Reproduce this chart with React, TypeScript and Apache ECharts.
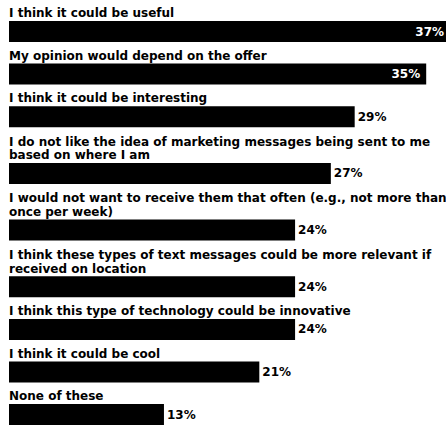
import React, { useEffect, useRef } from "react";
import * as echarts from "echarts";

const categories: string[] = [
  "I think it could be useful",
  "My opinion would depend on the offer",
  "I think it could be interesting",
  "I do not like the idea of marketing messages being sent to me\nbased on where I am",
  "I would not want to receive them that often (e.g., not more than\nonce per week)",
  "I think these types of text messages could be more relevant if\nreceived on location",
  "I think this type of technology could be innovative",
  "I think it could be cool",
  "None of these",
];

const values: number[] = [37, 35, 29, 27, 24, 24, 24, 21, 13];

const AXIS_MAX = 37;

export default function App() {
  const ref = useRef<HTMLDivElement>(null);

  useEffect(() => {
    if (!ref.current) return;
    const chart = echarts.init(ref.current, undefined, { renderer: "svg" });

    const left = 9;
    const barH = 21;
    const lineH = 14.1;
    const gap = 7.5;
    const pxPerUnit = 11.92;
    const gridW = AXIS_MAX * pxPerUnit;

    const tops: number[] = [];
    let t = 21;
    categories.forEach((c, i) => {
      const lines = c.split("\n").length;
      if (i > 0) t = t + barH + gap + lineH * lines;
      tops.push(t);
    });

    const grids: any[] = [];
    const xAxes: any[] = [];
    const yAxes: any[] = [];
    const series: any[] = [];
    const graphics: any[] = [];

    categories.forEach((c, i) => {
      grids.push({ left, top: tops[i], width: gridW, height: barH, containLabel: false });
      xAxes.push({ gridIndex: i, type: "value", min: 0, max: AXIS_MAX, show: false });
      yAxes.push({ gridIndex: i, type: "category", data: [c], show: false });
      const inside = values[i] >= 30;
      series.push({
        type: "bar",
        xAxisIndex: i,
        yAxisIndex: i,
        barWidth: barH,
        clip: false,
        data: [
          {
            value: values[i],
            itemStyle: { color: "#000" },
            label: {
              show: true,
              position: inside ? "insideRight" : "right",
              distance: inside ? 6 : 3,
              color: inside ? "#fff" : "#000",
              fontFamily: "DejaVu Sans",
              fontWeight: "bold",
              fontSize: 12,
              formatter: "{c}%",
            },
          },
        ],
      });
      graphics.push({
        type: "text",
        x: left,
        y: tops[i] - 1,
        style: {
          text: c,
          fill: "#000",
          font: "bold 12px 'DejaVu Sans'",
          verticalAlign: "bottom",
          lineHeight: 13.5,
        },
      });
    });

    chart.setOption({
      animation: false,
      backgroundColor: "#fff",
      grid: grids,
      xAxis: xAxes,
      yAxis: yAxes,
      series,
      graphic: graphics,
    });

    return () => chart.dispose();
  }, []);

  return (
    <div
      style={{
        position: "absolute",
        left: 0,
        top: 0,
        width: 446,
        height: 425,
        overflow: "hidden",
        background: "#fff",
      }}
    >
      <div ref={ref} style={{ width: 460, height: 425 }} />
    </div>
  );
}
